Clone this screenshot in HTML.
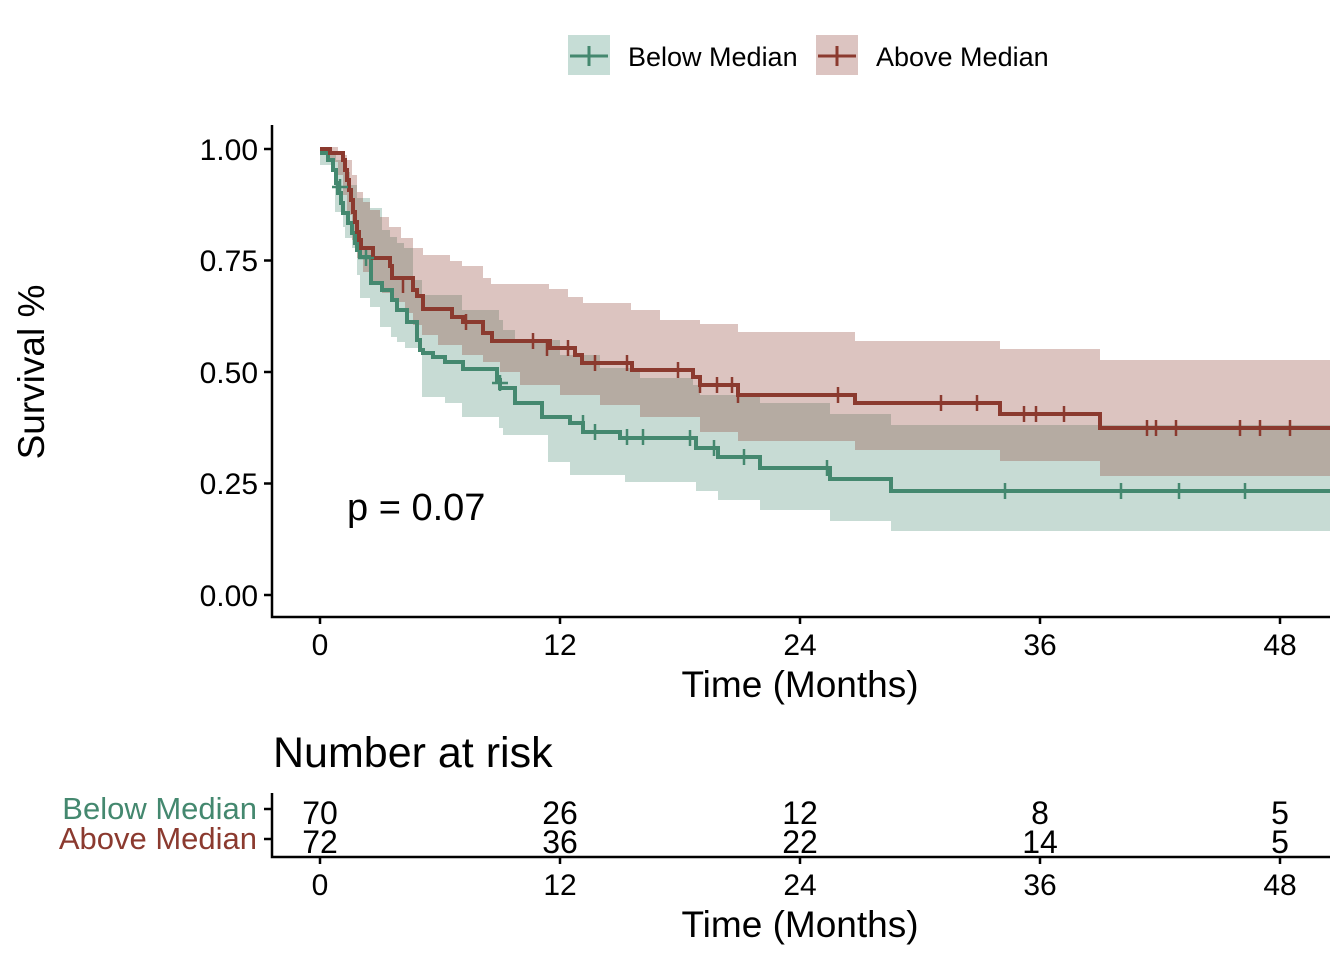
<!DOCTYPE html>
<html><head><meta charset="utf-8"><style>
html,body{margin:0;padding:0;background:#fff;}
svg{display:block;font-family:"Liberation Sans",Arial,sans-serif;}
</style></head><body>
<svg width="1344" height="960" viewBox="0 0 1344 960">
<!-- bands -->
<path fill="#44886f" fill-opacity="0.3" d="M320,149 H330 V152 H336 V160 H343 V172 H350 V185 H357 V198 H370 V208 H382 V230 H390 V237 H397 V243 H404 V248 H413 V280 H422 V295 H462 V310 H499 V320 H503 V330 H515 V340 H560 V355 H600 V368 H640 V378 H693 V385 H700 V395 H738 V397 H760 V403 H830 V414 H891 V425 H1330 V531 H891 V521 H830 V510 H760 V500 H718 V491 H696 V482 H625 V475 H570 V462 H548 V435 H503 V428 H499 V417 H462 V403 H445 V397 H422 V348 H405 V342 H397 V337 H391 V327 H380 V307 H370 V298 H360 V275 H357 V248 H352 V238 H345 V227 H343 V212 H335 V165 H320 Z"/>
<path fill="#8b3a2f" fill-opacity="0.3" d="M320,147 H338 V155 H347 V160 H352 V175 H357 V192 H363 V202 H370 V210 H380 V217 H389 V227 H401 V238 H413 V248 H423 V255 H450 V261 H462 V266 H483 V278 H491 V284 H549 V289 H568 V297 H583 V303 H631 V310 H660 V320 H700 V324 H738 V332 H855 V341 H1000 V349 H1100 V360 H1330 V476 H1100 V461 H1000 V450 H855 V441 H738 V432 H700 V417 H640 V405 H600 V395 H560 V385 H520 V372 H500 V362 H483 V355 H462 V345 H438 V335 H422 V325 H413 V313 H405 V302 H392 V293 H382 V283 H373 V272 H363 V258 H357 V240 H352 V215 H347 V195 H343 V175 H338 V162 H330 V152 H320 Z"/>
<!-- lines -->
<path fill="none" stroke="#44886f" stroke-width="4" d="M320,153 H328 V160 H333 V170 H336 V183 H338 V193 H341 V203 H343 V213 H348 V223 H352 V233 H355 V243 H357 V250 H360 V257 H371 V283 H382 V290 H392 V300 H397 V310 H407 V322 H417 V340 H420 V350 H423 V353 H433 V357 H445 V362 H463 V369 H497 V380 H500 V388 H515 V403 H542 V417 H570 V423 H583 V432 H620 V438 H696 V448 H718 V457 H760 V468 H830 V479 H891 V491 H1330"/>
<path fill="none" stroke="#8b3a2f" stroke-width="4" d="M320,149 H330 V153 H343 V160 H345 V170 H347 V180 H349 V190 H351 V200 H353 V212 H355 V222 H357 V232 H359 V240 H361 V248 H373 V258 H390 V266 H392 V278 H413 V290 H417 V296 H423 V309 H452 V317 H463 V322 H483 V333 H492 V341 H550 V348 H575 V355 H582 V363 H632 V370 H693 V377 H700 V385 H738 V395 H855 V403 H1000 V414 H1100 V428 H1330"/>
<!-- censor ticks -->
<g stroke="#44886f" stroke-width="2.5">
<path d="M340,179v16 M332,187h16 M366,250v16 M358,258h16 M500,375v16 M492,383h16 M583,415v16 M595,424v16 M627,429v16 M643,429v16 M690,430v16 M714,440v16 M744,449v16 M827,460v16 M1005,483v16 M1121,483v16 M1179,483v16 M1245,483v16"/>
</g>
<g stroke="#8b3a2f" stroke-width="2.5">
<path d="M403,277v16 M466,314v16 M533,333v16 M547,340v16 M568,340v16 M595,355v16 M627,355v16 M678,362v16 M700,377v16 M717,377v16 M732,377v16 M738,387v16 M838,387v16 M941,395v16 M977,395v16 M1024,406v16 M1036,406v16 M1064,406v16 M1147,420v16 M1156,420v16 M1176,420v16 M1240,420v16 M1260,420v16 M1290,420v16"/>
</g>
<!-- axes -->
<g stroke="#000" stroke-width="2.5" fill="none">
<path d="M272,125 V617 H1330"/>
<path d="M264,149H272 M264,260.5H272 M264,372H272 M264,483.5H272 M264,595H272"/>
<path d="M320,616v8 M560,616v8 M800,616v8 M1040,616v8 M1280,616v8"/>
</g>
<g font-size="30" fill="#000" text-anchor="end">
<text x="258" y="160">1.00</text>
<text x="258" y="271">0.75</text>
<text x="258" y="383">0.50</text>
<text x="258" y="494">0.25</text>
<text x="258" y="606">0.00</text>
</g>
<g font-size="30" fill="#000" text-anchor="middle">
<text x="320" y="655">0</text><text x="560" y="655">12</text><text x="800" y="655">24</text><text x="1040" y="655">36</text><text x="1280" y="655">48</text>
</g>
<text x="800" y="697" font-size="37" text-anchor="middle">Time (Months)</text>
<text transform="translate(44,372) rotate(-90)" font-size="37" text-anchor="middle">Survival %</text>
<text x="347" y="520" font-size="38">p = 0.07</text>
<!-- legend -->
<rect x="568" y="35" width="42" height="40" fill="#c6ddd6"/>
<path d="M570,56H608 M589,46v20" stroke="#44886f" stroke-width="3"/>
<text x="628" y="66" font-size="27">Below Median</text>
<rect x="816" y="35" width="42" height="40" fill="#dcc4c1"/>
<path d="M818,56H856 M837,46v20" stroke="#8b3a2f" stroke-width="3"/>
<text x="876" y="66" font-size="27">Above Median</text>
<!-- risk table -->
<text x="273" y="767" font-size="43">Number at risk</text>
<g stroke="#000" stroke-width="2.5" fill="none">
<path d="M272,793 V857 H1330"/>
<path d="M264,809H272 M264,839H272"/>
<path d="M320,856v8 M560,856v8 M800,856v8 M1040,856v8 M1280,856v8"/>
</g>
<text x="257" y="819" font-size="31" fill="#44886f" text-anchor="end">Below Median</text>
<text x="257" y="849" font-size="31" fill="#8b3a2f" text-anchor="end">Above Median</text>
<g font-size="32" text-anchor="middle">
<text x="320" y="824">70</text><text x="560" y="824">26</text><text x="800" y="824">12</text><text x="1040" y="824">8</text><text x="1280" y="824">5</text>
<text x="320" y="853">72</text><text x="560" y="853">36</text><text x="800" y="853">22</text><text x="1040" y="853">14</text><text x="1280" y="853">5</text>
</g>
<g font-size="30" text-anchor="middle">
<text x="320" y="895">0</text><text x="560" y="895">12</text><text x="800" y="895">24</text><text x="1040" y="895">36</text><text x="1280" y="895">48</text>
</g>
<text x="800" y="937" font-size="37" text-anchor="middle">Time (Months)</text>
</svg>
</body></html>
